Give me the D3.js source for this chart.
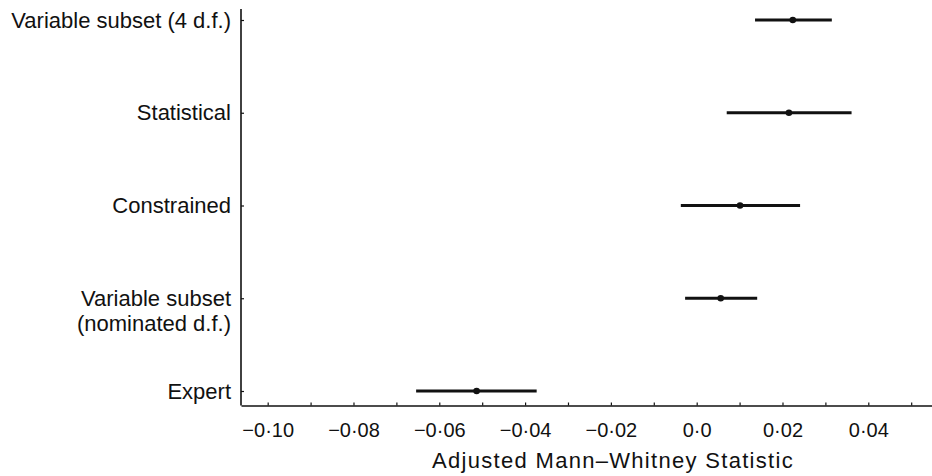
<!DOCTYPE html>
<html>
<head>
<meta charset="utf-8">
<script src="https://cdn.jsdelivr.net/npm/d3@7/dist/d3.min.js"></script>
<style>
  html, body { margin: 0; padding: 0; background: #fff; }
  svg { display: block; }
  text { font-family: "Liberation Sans", Arial, Helvetica, sans-serif; fill: #111; }
</style>
</head>
<body>
<svg id="chart" width="932" height="476"></svg>
<script>
// ---- data ----
const categories = [
  "Variable subset (4 d.f.)",
  "Statistical",
  "Constrained",
  "Variable subset\n(nominated d.f.)",
  "Expert"
];
const estimates = [0.0224, 0.0215, 0.0101, 0.0056, -0.0513];
const lower     = [0.0136, 0.0070, -0.0037, -0.0027, -0.0654];
const upper     = [0.0315, 0.0361, 0.0241, 0.0141, -0.0373];
const majorTicks = [-0.10, -0.08, -0.06, -0.04, -0.02, 0.0, 0.02, 0.04];
const majorTickLabels = ["\u22120\u00b710", "\u22120\u00b708", "\u22120\u00b706", "\u22120\u00b704", "\u22120\u00b702", "0\u00b70", "0\u00b702", "0\u00b704"];
const minorTicks = [-0.10, -0.09, -0.08, -0.07, -0.06, -0.05, -0.04, -0.03, -0.02, -0.01, 0.0, 0.01, 0.02, 0.03, 0.04, 0.05];
const xTitle = "Adjusted Mann\u2013Whitney Statistic";

// ---- layout ----
const svg = d3.select("#chart");
const axisX = 241, axisY = 405.5;
const x = d3.scaleLinear().domain([-0.10622, 0.05485]).range([axisX, 932]);
const y = d3.scalePoint().domain(categories).range([20, 391]);

const ink = "#111";

// bottom axis with inward ticks (all 0.01 steps)
const gx = svg.append("g").attr("transform", `translate(0,${axisY})`);
gx.call(d3.axisTop(x).tickValues(minorTicks).tickSize(3).tickSizeOuter(0).tickFormat(""));
gx.select(".domain").attr("stroke", ink).attr("stroke-width", 1.6);
gx.selectAll(".tick line").attr("stroke", ink).attr("stroke-width", 1.2);

// tick labels
const gl = svg.append("g").attr("transform", `translate(0,${axisY})`);
gl.call(d3.axisBottom(x).tickValues(majorTicks).tickSize(0)
  .tickFormat((d, i) => majorTickLabels[i]));
gl.select(".domain").remove();
gl.selectAll(".tick text")
  .attr("dy", 0).attr("y", 31)
  .style("font-family", '"Liberation Sans", Arial, sans-serif')
  .style("font-size", "20px").attr("fill", ink);

// left axis
const gy = svg.append("g").attr("transform", `translate(${axisX},0)`);
gy.call(d3.axisRight(y).tickSize(3).tickSizeOuter(0).tickFormat(""));
gy.select(".domain").attr("stroke", ink).attr("stroke-width", 1.6)
  .attr("d", `M0,9V${axisY}`);
gy.selectAll(".tick line").attr("stroke", ink).attr("stroke-width", 1.2);

// category labels
const labels = svg.append("g");
categories.forEach(c => {
  const lines = c.split("\n");
  const t = labels.append("text")
    .attr("x", axisX - 10)
    .attr("y", y(c))
    .attr("text-anchor", "end")
    .style("font-size", "22px");
  lines.forEach((ln, i) => {
    t.append("tspan").attr("x", axisX - 10)
      .attr("dy", i === 0 ? "0.35em" : "1.12em")
      .text(ln);
  });
});

// x title
svg.append("text")
  .attr("x", x(-0.0195))
  .attr("y", 468)
  .attr("text-anchor", "middle")
  .style("font-size", "22px")
  .style("letter-spacing", "1.3px")
  .text(xTitle);

// intervals
const rows = categories.map((c, i) => ({c, est: estimates[i], lo: lower[i], hi: upper[i]}));
svg.append("g").selectAll("line").data(rows).join("line")
  .attr("x1", d => x(d.lo)).attr("x2", d => x(d.hi))
  .attr("y1", d => y(d.c)).attr("y2", d => y(d.c))
  .attr("stroke", ink).attr("stroke-width", 2.8);
svg.append("g").selectAll("circle").data(rows).join("circle")
  .attr("cx", d => x(d.est)).attr("cy", d => y(d.c))
  .attr("r", 3.3).attr("fill", ink);
</script>
</body>
</html>
